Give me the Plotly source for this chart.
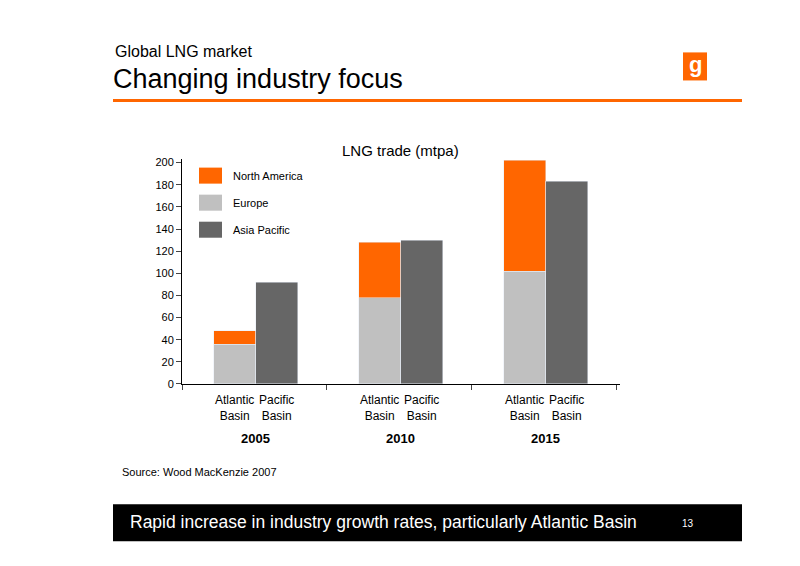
import plotly.graph_objects as go

years = ["2005", "2010", "2015"]
basins = ["Atlantic<br>Basin", "Pacific<br>Basin"]
north_america = [12, 50, 100]   # atlantic only
europe = [36, 78, 102]          # atlantic only
asia_pacific = [92, 130, 183]   # pacific only
yticks = list(range(0, 201, 20))

OFF = 8
W, H = 800 - 2 * OFF, 566 - 2 * OFF
def px(x): return (x - OFF) / W
def py(y):
    y = (y - 2.8) / 0.982
    return 1 - (y - OFF) / H

step = 3.45
atl_x = [i * step for i in range(len(years))]
pac_x = [i * step + 1 for i in range(len(years))]
ORANGE, GREY, DARK = "#FF6600", "#C0C0C0", "#666666"

fig = go.Figure()
fig.add_bar(x=atl_x, y=europe, marker_color=GREY, width=1, name="Europe")
fig.add_bar(x=atl_x, y=north_america, marker_color=ORANGE, width=1, name="North America")
fig.add_bar(x=pac_x, y=asia_pacific, marker_color=DARK, width=1, name="Asia Pacific")

xr = [-1.26, 9.17]
seps = [xr[0] + k * step for k in range(4)]
fig.update_layout(
    width=W, height=H, margin=dict(l=0, r=0, t=0, b=0), barmode="stack",
    plot_bgcolor="white", paper_bgcolor="white", showlegend=False,
    font=dict(family="Liberation Sans, Arial", color="black"),
    xaxis=dict(domain=[px(182), px(620)], range=xr, tickvals=seps, showticklabels=False,
               ticks="outside", ticklen=5, showline=True, linecolor="black", showgrid=False, zeroline=False),
    yaxis=dict(domain=[py(383), py(158.7)], range=[0, 203], tickvals=yticks, ticks="outside",
               ticklen=5, showline=True, linecolor="black", showgrid=False, zeroline=False,
               tickfont=dict(size=11)),
)

def txt(x, y, s, size, color="black", xanchor="center", xref="paper"):
    fig.add_annotation(x=x if xref != "paper" else px(x), y=py(y), xref=xref, yref="paper", text=s,
                       showarrow=False, xanchor=xanchor, yanchor="middle",
                       font=dict(size=size, color=color))

for i, y in enumerate(years):
    for xx, lab in ((atl_x[i], basins[0]), (pac_x[i], basins[1])):
        txt(xx, 407, lab, 12, xref="x")
    txt((atl_x[i] + pac_x[i]) / 2, 437, "<b>" + y + "</b>", 13, xref="x")

# legend
for k, (name, col) in enumerate((("North America", ORANGE), ("Europe", GREY), ("Asia Pacific", DARK))):
    yc = 175 + k * 27
    fig.add_shape(type="rect", xref="paper", yref="paper", x0=px(199), x1=px(222),
                  y0=py(yc + 8), y1=py(yc - 8), fillcolor=col, line_width=0)
    txt(231, yc, name, 11, xanchor="left")

txt(400, 150, "LNG trade (mtpa)", 15)

# header
txt(113, 51, "Global LNG market", 16, xanchor="left")
txt(111, 79, "Changing industry focus", 27, xanchor="left")
fig.add_shape(type="line", xref="paper", yref="paper", x0=px(113), x1=px(742), y0=py(100),
              y1=py(100), line=dict(color=ORANGE, width=3))
fig.add_shape(type="rect", xref="paper", yref="paper", x0=px(683), x1=px(707), y0=py(80),
              y1=py(52), fillcolor=ORANGE, line_width=0)
txt(695, 64, "<b>g</b>", 22, color="white")

txt(120, 471, "Source: Wood MacKenzie 2007", 11, xanchor="left")

# footer
fig.add_shape(type="rect", xref="paper", yref="paper", x0=px(113), x1=px(742), y0=py(540),
              y1=py(503), fillcolor="black", line_width=0)
txt(383, 521, "Rapid increase in industry growth rates, particularly Atlantic Basin", 17.5, color="white")
txt(688, 522, "13", 10, color="white")

fig.write_html("out.html")
